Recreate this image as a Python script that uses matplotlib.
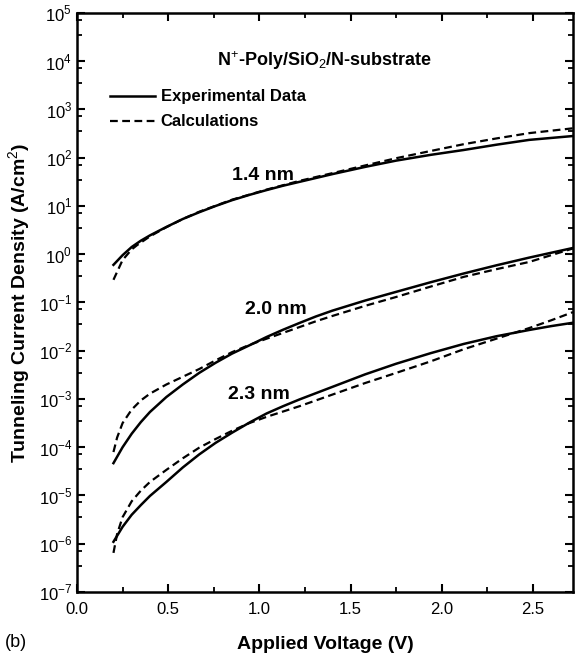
import numpy as np
import matplotlib.pyplot as plt
from matplotlib.ticker import LogLocator, MultipleLocator, NullFormatter

plt.rcParams['font.family'] = ['Liberation Sans', 'DejaVu Sans']
plt.rcParams['mathtext.fontset'] = 'custom'
plt.rcParams['mathtext.rm'] = 'Liberation Sans'
plt.rcParams['mathtext.bf'] = 'Liberation Sans:bold'

# values (log10 of J in A/cm^2)
v14_exp = [0.20, 0.25, 0.30, 0.35, 0.40, 0.49, 0.58, 0.67, 0.76, 0.85, 0.95, 1.04, 1.13,
           1.22, 1.40, 1.58, 1.75, 1.94, 2.12, 2.30, 2.48, 2.60, 2.72]
j14_exp = [-0.22, -0.02, 0.15, 0.28, 0.39, 0.565, 0.73, 0.87, 1.00, 1.12, 1.235, 1.33, 1.42,
           1.50, 1.66, 1.81, 1.94, 2.06, 2.16, 2.27, 2.37, 2.41, 2.45]
v14_calc = [0.20, 0.25, 0.30, 0.33, 0.40, 0.49, 0.58, 0.67, 0.85, 1.04, 1.22, 1.40, 1.58,
            1.75, 1.94, 2.12, 2.30, 2.48, 2.60, 2.72]
j14_calc = [-0.53, -0.12, 0.10, 0.19, 0.37, 0.56, 0.73, 0.88, 1.13, 1.34, 1.52, 1.68, 1.84,
            1.99, 2.14, 2.28, 2.40, 2.51, 2.56, 2.61]

v20_exp = [0.20, 0.25, 0.30, 0.35, 0.40, 0.49, 0.58, 0.67, 0.76, 0.85, 0.95, 1.04, 1.13,
           1.22, 1.31, 1.40, 1.58, 1.75, 1.94, 2.12, 2.30, 2.48, 2.60, 2.72]
j20_exp = [-4.33, -4.00, -3.72, -3.48, -3.27, -2.96, -2.70, -2.46, -2.25, -2.06, -1.88, -1.715, -1.565,
           -1.425, -1.29, -1.17, -0.96, -0.78, -0.58, -0.40, -0.23, -0.07, 0.03, 0.13]
v20_calc = [0.20, 0.22, 0.25, 0.30, 0.35, 0.40, 0.49, 0.58, 0.67, 0.76, 0.85, 0.945, 1.04,
            1.13, 1.22, 1.31, 1.40, 1.58, 1.75, 1.94, 2.12, 2.30, 2.48, 2.60, 2.72]
j20_calc = [-4.10, -3.80, -3.50, -3.22, -3.03, -2.89, -2.70, -2.54, -2.38, -2.20, -2.03, -1.88, -1.75,
            -1.63, -1.51, -1.39, -1.28, -1.07, -0.886, -0.67, -0.47, -0.31, -0.16, -0.02, 0.12]

v23_exp = [0.20, 0.25, 0.30, 0.35, 0.40, 0.49, 0.58, 0.67, 0.76, 0.85, 0.95, 1.04, 1.13,
           1.22, 1.31, 1.40, 1.58, 1.75, 1.94, 2.12, 2.30, 2.48, 2.60, 2.72]
j23_exp = [-5.96, -5.65, -5.40, -5.20, -5.01, -4.72, -4.42, -4.15, -3.91, -3.70, -3.48, -3.30, -3.15,
           -3.01, -2.88, -2.75, -2.49, -2.27, -2.05, -1.86, -1.70, -1.57, -1.49, -1.42]
v23_calc = [0.20, 0.22, 0.25, 0.30, 0.35, 0.40, 0.49, 0.58, 0.67, 0.76, 0.85, 0.945, 1.04,
            1.13, 1.22, 1.31, 1.40, 1.58, 1.75, 1.94, 2.12, 2.30, 2.48, 2.60, 2.72]
j23_calc = [-6.19, -5.80, -5.45, -5.12, -4.90, -4.72, -4.47, -4.23, -4.01, -3.83, -3.66, -3.50, -3.37,
            -3.26, -3.15, -3.03, -2.91, -2.67, -2.46, -2.22, -1.97, -1.75, -1.53, -1.37, -1.20]

fig = plt.figure(figsize=(5.78, 6.56), dpi=100)
ax = fig.add_axes([0.1332, 0.0976, 0.8581, 0.8826])

for v, j in [(v14_exp, j14_exp), (v20_exp, j20_exp), (v23_exp, j23_exp)]:
    ax.plot(v, 10 ** np.array(j), color='black', lw=1.8)
for v, j in [(v14_calc, j14_calc), (v20_calc, j20_calc), (v23_calc, j23_calc)]:
    ax.plot(v, 10 ** np.array(j), color='black', lw=1.6, dashes=(3.5, 2))

ax.set_yscale('log')
ax.set_xlim(0, 2.72)
ax.set_ylim(1e-7, 1e5)
ax.xaxis.set_major_locator(MultipleLocator(0.5))
ax.xaxis.set_minor_locator(MultipleLocator(0.25))
ax.yaxis.set_minor_locator(LogLocator(base=10, subs=(3.5, 7.2), numticks=20))
ax.yaxis.set_minor_formatter(NullFormatter())
ax.set_yticks([10.0 ** k for k in range(-7, 6)])
ax.set_yticklabels(['$10^{%d}$' % k for k in range(-7, 6)])
ax.tick_params(which='both', direction='in', top=True, right=True, labelsize=12)
ax.tick_params(axis='x', pad=7)
ax.tick_params(which='major', length=6, width=1.5)
ax.tick_params(which='minor', length=3.5, width=1.3)
for s in ax.spines.values():
    s.set_linewidth(1.8)

ax.text(0.5, 0.917, r'N$^{+}$-Poly/SiO$_{2}$/N-substrate', transform=ax.transAxes,
        ha='center', va='center', fontsize=13, fontweight='bold')
ax.plot([0.18, 0.43], [10 ** 3.275, 10 ** 3.275], color='black', lw=1.8)
ax.plot([0.18, 0.43], [10 ** 2.76, 10 ** 2.76], color='black', lw=1.6, dashes=(3.5, 2))
ax.text(0.46, 10 ** 3.275, 'Experimental Data', ha='left', va='center',
        fontsize=12, fontweight='bold')
ax.text(0.46, 10 ** 2.76, 'Calculations', ha='left', va='center',
        fontsize=12, fontweight='bold')

ax.text(1.02, 10 ** 1.64, '1.4 nm', ha='center', va='center', fontsize=14, fontweight='bold')
ax.text(1.09, 10 ** -1.14, '2.0 nm', ha='center', va='center', fontsize=14, fontweight='bold')
ax.text(1.0, 10 ** -2.9, '2.3 nm', ha='center', va='center', fontsize=14, fontweight='bold')

ax.set_xlabel('Applied Voltage (V)', fontsize=14, fontweight='bold', labelpad=14)
ax.set_ylabel('Tunneling Current Density (A/cm$^{2}$)', fontsize=14, fontweight='bold', labelpad=4)
fig.text(0.008, 0.008, '(b)', fontsize=13, ha='left', va='bottom')

fig.savefig('out.png', dpi=100)
